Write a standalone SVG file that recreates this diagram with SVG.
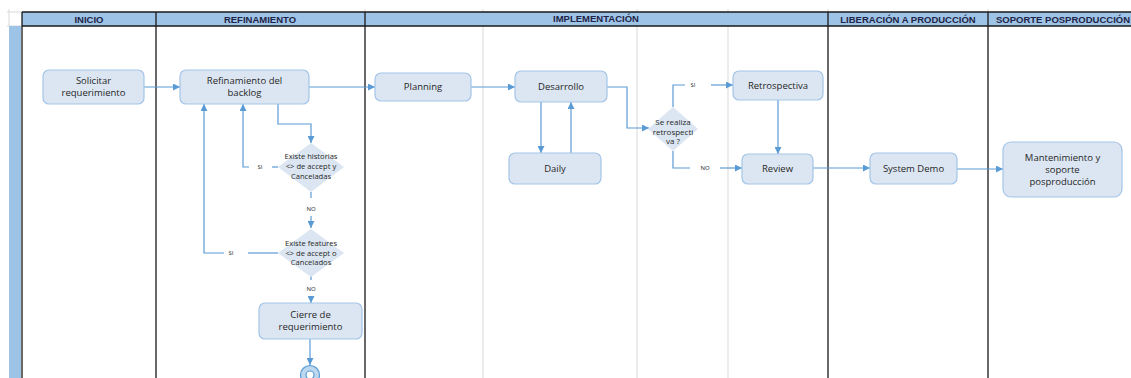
<svg xmlns="http://www.w3.org/2000/svg" width="1131" height="378" viewBox="0 0 1131 378">
<defs>
<marker id="ah" viewBox="0 0 8 8" refX="8" refY="4" markerWidth="7" markerHeight="7" markerUnits="userSpaceOnUse" orient="auto">
<path d="M0,0 L8,4 L0,8 z" fill="#5b9bd5"/>
</marker>
</defs>
<style>
.hdr{fill:#9dc3e6}
.hl{stroke:#1a1a1a;stroke-width:1.3;fill:none}
.grid{stroke:#d9d9d9;stroke-width:1;fill:none}
.ht{font-family:"Liberation Sans",Arial,sans-serif;font-weight:bold;font-size:9.5px;fill:#1f2447;text-anchor:middle}
.box{fill:#dce6f2;stroke:#a3c5e8;stroke-width:1.2}
.dia{fill:#dce6f2;stroke:none}
.nt{font-family:"Open Sans",sans-serif;font-size:9.5px;fill:#262626;text-anchor:middle}
.dt{font-family:"Open Sans",sans-serif;font-size:7.6px;fill:#262626;text-anchor:middle}
.dt3{font-family:"Open Sans",sans-serif;font-size:8px;fill:#262626;text-anchor:middle}
.lt{font-family:"Open Sans",sans-serif;font-size:6px;fill:#262626;text-anchor:middle}
.c{stroke:#5b9bd5;stroke-width:1.2;fill:none}
.ca{stroke:#5b9bd5;stroke-width:1.2;fill:none;marker-end:url(#ah)}
</style>
<rect width="1131" height="378" fill="#ffffff"/>
<g id="grid">
<path class="grid" d="M7,12 H22 M7,26 H22 M9,9 V26 M483,9 V378 M637,9 V378 M728,9 V378 M828,9 V12 M988,9 V12 M365,9 V12"/>
</g>
<g id="lanes">
<rect class="hdr" x="22" y="12" width="1109" height="14"/>
<rect class="hdr" x="9" y="26" width="12" height="352"/>
<path class="hl" d="M22,12 H1131 M22,26 H1131 M22,12 V378 M156,12 V378 M365,12 V378 M828,12 V378 M988,12 V378"/>
<text class="ht" x="89" y="23">INICIO</text>
<text class="ht" x="260" y="23">REFINAMIENTO</text>
<text class="ht" x="596" y="22">IMPLEMENTACIÓN</text>
<text class="ht" x="908" y="23">LIBERACIÓN A PRODUCCIÓN</text>
<text class="ht" x="1063" y="23">SOPORTE POSPRODUCCIÓN</text>
</g>
<g id="connectors">
<path class="ca" d="M144,87 H180"/>
<path class="ca" d="M309,87 H375"/>
<path class="ca" d="M471,87 H515"/>
<path class="ca" d="M607,87 H627 V128 H649"/>
<path class="c" d="M673,107 V85 H685"/>
<path class="ca" d="M711,85 H733"/>
<path class="c" d="M673,151 V168 H690"/>
<path class="ca" d="M720,168 H742"/>
<path class="ca" d="M778,100 V154"/>
<path class="ca" d="M541,102 V153"/>
<path class="ca" d="M571,153 V102"/>
<path class="ca" d="M813,168 H870"/>
<path class="ca" d="M957,169 H1003"/>
<path class="ca" d="M278,104 V124 H311 V143"/>
<path class="c" d="M278,167 H272"/>
<path class="ca" d="M249,167 H243 V104"/>
<path class="c" d="M311,192 V198"/>
<path class="ca" d="M311,216 V228"/>
<path class="c" d="M278,253 H248"/>
<path class="ca" d="M224,253 H204 V104"/>
<path class="c" d="M311,276 V280"/>
<path class="ca" d="M311,296 V303"/>
<path class="ca" d="M310,339 V365"/>
<text class="lt" x="260" y="169">SI</text>
<text class="lt" x="311" y="211">NO</text>
<text class="lt" x="231" y="255">SI</text>
<text class="lt" x="311" y="291">NO</text>
<text class="lt" x="693" y="87">SI</text>
<text class="lt" x="705" y="170">NO</text>
</g>
<g id="solicitar">
<rect class="box" x="43" y="70" width="101" height="34" rx="6"/>
<text class="nt" x="93.5" y="84">Solicitar</text>
<text class="nt" x="93.5" y="96">requerimiento</text>
</g>
<g id="refinamiento">
<rect class="box" x="180" y="70" width="129" height="34" rx="6"/>
<text class="nt" x="244.5" y="84">Refinamiento del</text>
<text class="nt" x="244.5" y="96">backlog</text>
</g>
<g id="planning">
<rect class="box" x="375" y="73" width="96" height="28" rx="6"/>
<text class="nt" x="423" y="90">Planning</text>
</g>
<g id="desarrollo">
<rect class="box" x="515" y="71" width="92" height="31" rx="6"/>
<text class="nt" x="561" y="90">Desarrollo</text>
</g>
<g id="daily">
<rect class="box" x="509" y="153" width="92" height="31" rx="6"/>
<text class="nt" x="555" y="172">Daily</text>
</g>
<g id="retrospectiva">
<rect class="box" x="733" y="71" width="90" height="29" rx="6"/>
<text class="nt" x="778" y="89">Retrospectiva</text>
</g>
<g id="review">
<rect class="box" x="742" y="154" width="71" height="30" rx="6"/>
<text class="nt" x="777.5" y="172">Review</text>
</g>
<g id="systemdemo">
<rect class="box" x="870" y="153" width="87" height="31" rx="6"/>
<text class="nt" x="913.5" y="172">System Demo</text>
</g>
<g id="mantenimiento">
<rect class="box" x="1003" y="142" width="119" height="55" rx="8"/>
<text class="nt" x="1062.5" y="161">Mantenimiento y</text>
<text class="nt" x="1062.5" y="173">soporte</text>
<text class="nt" x="1062.5" y="185">posproducción</text>
</g>
<g id="cierre">
<rect class="box" x="259" y="303" width="103" height="36" rx="6"/>
<text class="nt" x="310.5" y="318">Cierre de</text>
<text class="nt" x="310.5" y="330">requerimiento</text>
</g>
<g id="d-historias">
<polygon class="dia" points="311,143 344,167 311,192 278,167"/>
<text class="dt" x="311" y="159">Existe historias</text>
<text class="dt" x="311" y="169">&lt;&gt; de accept y</text>
<text class="dt" x="311" y="179">Canceladas</text>
</g>
<g id="d-features">
<polygon class="dia" points="311,229 344,253 311,277 278,253"/>
<text class="dt" x="311" y="246">Existe features</text>
<text class="dt" x="311" y="256">&lt;&gt; de accept o</text>
<text class="dt" x="311" y="265">Cancelados</text>
</g>
<g id="d-retro">
<polygon class="dia" points="673,107 698,129 673,151 648,129"/>
<text class="dt3" x="673" y="125">Se realiza</text>
<text class="dt3" x="673" y="135">retrospecti</text>
<text class="dt3" x="673" y="144">va ?</text>
</g>
<g id="fin">
<circle cx="310" cy="375" r="9.5" fill="#bdd7ee" stroke="#5b9bd5" stroke-width="1.2"/>
<circle cx="310" cy="375" r="4" fill="#ffffff" stroke="#5b9bd5" stroke-width="1.2"/>
</g>
</svg>
